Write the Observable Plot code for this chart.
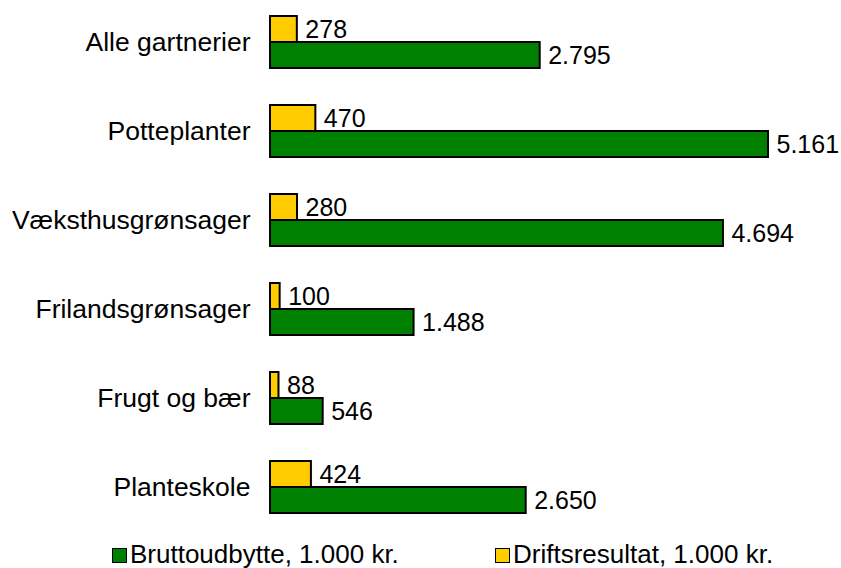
<!DOCTYPE html>
<html>
<head>
<meta charset="utf-8">
<script src="https://cdn.jsdelivr.net/npm/d3@7"></script>
<script src="https://cdn.jsdelivr.net/npm/@observablehq/plot@0.6"></script>
<style>
  body { margin: 0; background: #fff; font-family: "Liberation Sans", Arial, sans-serif; }
  #wrap { position: relative; width: 841px; height: 568px; overflow: hidden; }
  #chart svg { overflow: visible; }
  .legend { position: absolute; top: 540px; left: 0; width: 841px; height: 28px; font-size: 26px; line-height: 28px; color: #000; }
  .item { position: absolute; top: 0; white-space: nowrap; display: flex; align-items: center; }
  .sw { width: 13px; height: 13px; border: 1.5px solid #000; margin-right: 3px; margin-top: 2px; }
</style>
</head>
<body>
<div id="wrap">
  <div id="chart"></div>
  <div class="legend">
    <div class="item" style="left:112px"><span class="sw" style="background:#008000"></span><span>Bruttoudbytte, 1.000 kr.</span></div>
    <div class="item" style="left:495px"><span class="sw" style="background:#FFCC00"></span><span>Driftsresultat, 1.000 kr.</span></div>
  </div>
</div>
<script>
const categories = ["Alle gartnerier", "Potteplanter", "Væksthusgrønsager", "Frilandsgrønsager", "Frugt og bær", "Planteskole"];
const series = ["Driftsresultat", "Bruttoudbytte"];
const bruttoudbytte = [2795, 5161, 4694, 1488, 546, 2650];
const driftsresultat = [278, 470, 280, 100, 88, 424];
const colors = ["#FFCC00", "#008000"];

const data = [];
categories.forEach((c, i) => {
  data.push({cat: c, series: "Driftsresultat", value: driftsresultat[i]});
  data.push({cat: c, series: "Bruttoudbytte", value: bruttoudbytte[i]});
});

const fmt = d3.formatLocale({decimal: ",", thousands: ".", grouping: [3], currency: ["", ""]}).format(",d");

const chart = Plot.plot({
  width: 841,
  height: 520,
  marginLeft: 270,
  marginRight: 73,
  marginTop: 14,
  marginBottom: 5,
  style: {fontFamily: "Liberation Sans, Arial, sans-serif", fontSize: "26.5px", color: "#000", background: "#fff", overflow: "visible"},
  facet: {marginTop: 0, marginBottom: 0, marginLeft: 0, marginRight: 0},
  x: {domain: [0, 5161], axis: null},
  y: {domain: series, padding: 0, axis: null},
  fy: {domain: categories, paddingInner: 0.42, paddingOuter: 0, axis: "left", label: null, tickSize: 0, tickPadding: 20},
  color: {domain: series, range: colors},
  marks: [
    Plot.barX(data, {fy: "cat", y: "series", x: "value", fill: "series", stroke: "#000", strokeWidth: 2}),
    Plot.text(data, {fy: "cat", y: "series", x: "value", text: d => fmt(d.value), textAnchor: "start", dx: 8, fontSize: 25, fill: "#000"})
  ]
});
document.getElementById("chart").appendChild(chart);
</script>
</body>
</html>
